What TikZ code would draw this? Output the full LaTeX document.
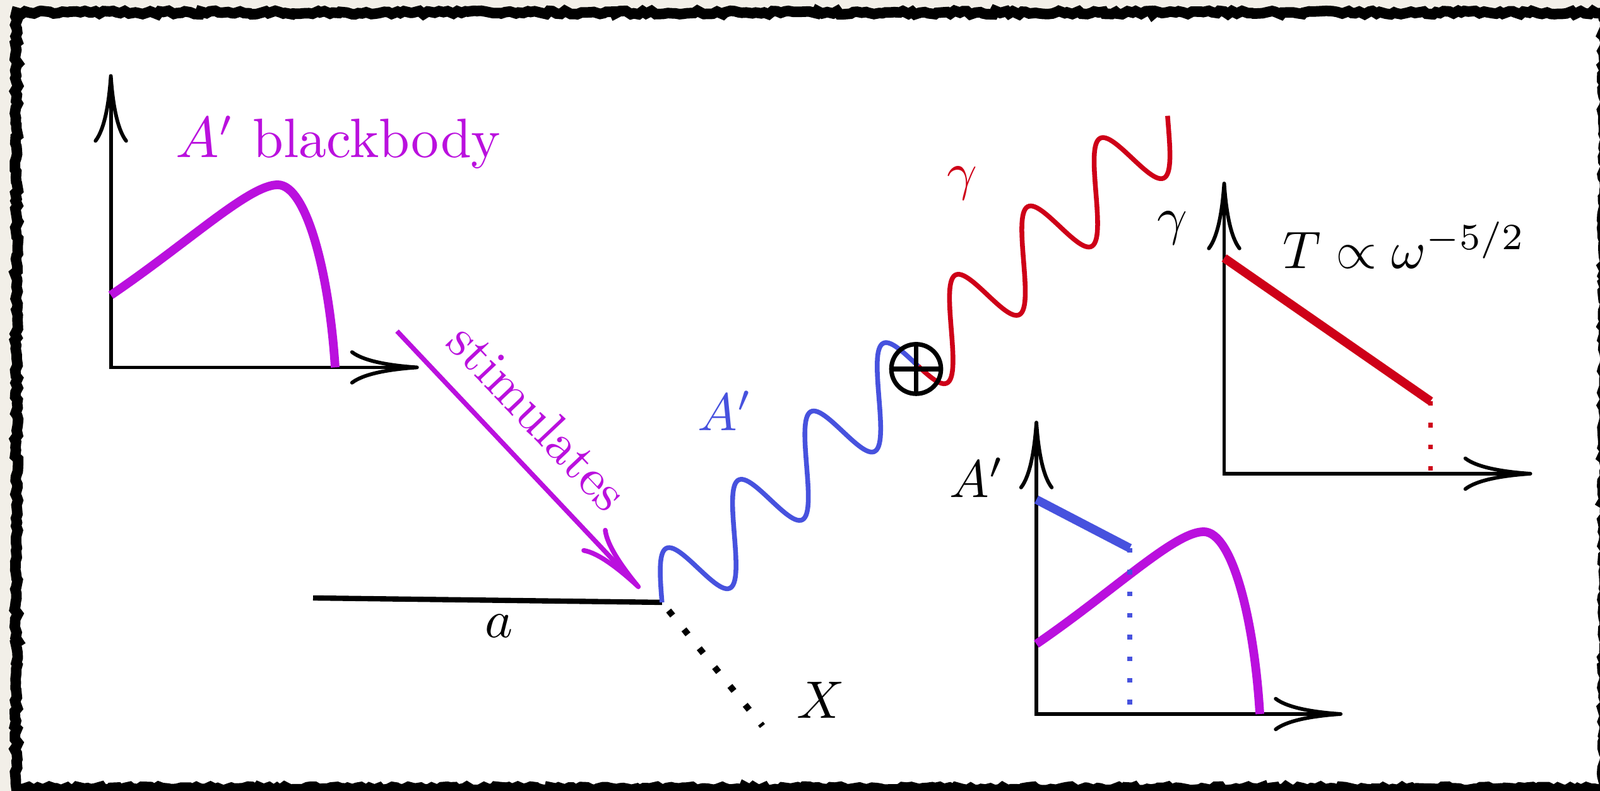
\documentclass[tikz,border=0pt]{standalone}
\usetikzlibrary{arrows.meta,decorations.pathmorphing}

\definecolor{bbpurple}{RGB}{186,16,222}
\definecolor{apblue}{RGB}{71,82,222}
\definecolor{gamred}{RGB}{206,0,24}
\definecolor{paper}{RGB}{242,239,232}

\begin{document}
\begin{tikzpicture}[x=0.42cm, y=0.42cm,
  >={Computer Modern Rightarrow[length=13pt,width=6.5pt]},
  frame/.style={line width=2pt, decorate, decoration={random steps, segment length=0.8pt, amplitude=0.35pt}},
  axis/.style={line width=0.7pt, <->},
  bbline/.style={bbpurple, line width=1.65pt},
  apline/.style={apblue, line width=1.65pt},
  gamline/.style={gamred, line width=1.65pt},
  wave/.style={line width=0.9pt},
  stim/.style={bbpurple, line width=0.9pt, ->},
  dotline/.style={line width=1.2pt, dash pattern=on 1.2pt off 3.4pt, dash phase=2.6pt},
  dotfall/.style={line width=0.9pt, dash pattern=on 0.9pt off 3.2pt},
  oplus/.style={circle, draw, line width=0.85pt, minimum size=0.33cm, inner sep=0pt, outer sep=0pt},
]

\useasboundingbox (0,0) rectangle (25.35,12.54);
\clip (0,0) rectangle (25.35,12.54);

% === frame ===
\fill[paper] (0,0) rectangle (25.35,12.54);
\draw[frame, fill=white] (0.26,0.04) rectangle (25.41,12.34);

% === A' blackbody spectrum ===
\begin{scope}[shift={(1.756,6.715)}]
  \draw[axis] (0,4.65) -- (0,0) -- (4.88,0);
  \draw[bbline] (0,1.145) .. controls (1.24,1.988) and (2.194,2.895) .. (2.644,2.895)
    .. controls (3.094,2.895) and (3.458,1.515) .. (3.554,0);
\end{scope}
\node[text=bbpurple, anchor=base, font=\fontsize{10.5}{12}\selectfont] (bbtitle) at (5.36,10.04) {$A'$ blackbody};

% === stimulated conversion ===
\coordinate (st1) at (6.29,7.29);
\coordinate (st2) at (10.14,3.21);
\draw[stim] (st1) -- node[sloped, above=1pt, pos=0.45, text=bbpurple] (stimlab) {stimulates} (st2);

\coordinate (ain) at (4.96,3.06);
\coordinate (vtx) at (10.488,2.99);
\coordinate (xend) at (12.08,1.03);
\draw[line width=1pt] (ain) -- (vtx);
\node (alab) at (7.91,2.61) {$a$};
\draw[dotline] (vtx) -- (xend);
\node (xlab) at (13.0,1.44) {$X$};

% === A' -> gamma ===
\begin{scope}[shift={(vtx)}, rotate=43.4]
  \draw[wave, apblue] plot[domain=-90:1177, samples=200]
    ({1.577*(\x+90)/360+0.217*cos(\x)}, {0.58*cos(\x)});
  \draw[wave, gamred] plot[domain=1177:2440, samples=200]
    ({1.577*(\x+90)/360+0.217*cos(\x)}, {0.58*cos(\x)});
\end{scope}
\node[oplus] (mix) at (14.515,6.69) {};
\draw[line width=0.85pt] (mix.north) -- (mix.south) (mix.west) -- (mix.east);
\node[text=apblue] (aplab) at (11.49,6.03) {$A'$};
\node[text=gamred] (gamlab) at (15.24,9.63) {$\gamma$};

% === photon spectrum ===
\begin{scope}[shift={(19.395,5.03)}]
  \draw[axis] (0,4.63) -- (0,0) -- (4.88,0);
  \draw[gamline] (0,3.42) -- (3.27,1.15);
  \draw[gamred, dotfall] (3.27,1.15) -- (3.27,0);
\end{scope}
\node (gamax) at (18.57,8.92) {$\gamma$};
\node[anchor=base west, inner sep=0pt] (law) at (20.31,8.28) {$T\propto\omega^{-5/2}$};

% === A' spectrum after conversion ===
\begin{scope}[shift={(16.42,1.22)}]
  \draw[axis] (0,4.65) -- (0,0) -- (4.85,0);
  \draw[bbline] (0,1.11) .. controls (1.24,1.96) and (2.194,2.89) .. (2.65,2.89)
    .. controls (3.1,2.89) and (3.45,1.515) .. (3.54,0);
  \draw[apline] (0,3.40) -- (1.48,2.63);
  \draw[apblue, dotfall] (1.48,2.63) -- (1.48,0);
\end{scope}
\node (apax) at (15.48,4.97) {$A'$};

\end{tikzpicture}
\end{document}
